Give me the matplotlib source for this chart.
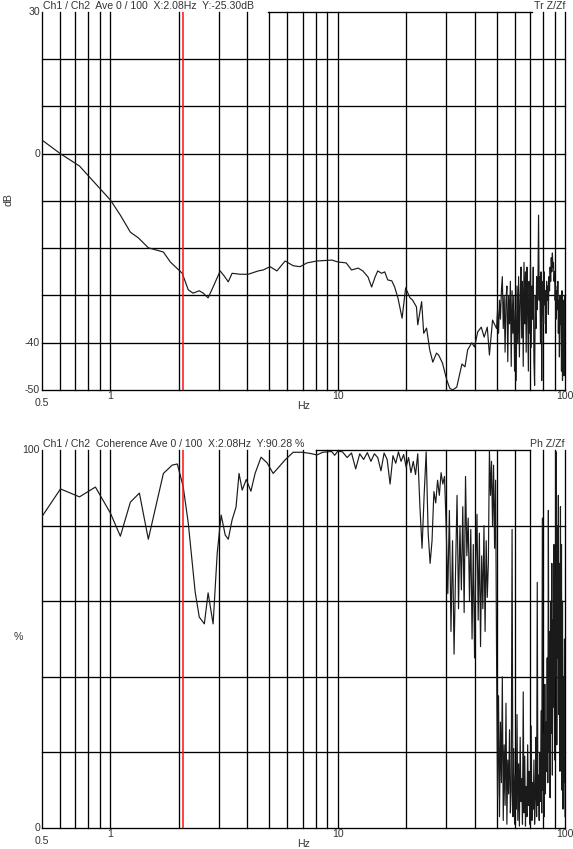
import numpy as np
import matplotlib.pyplot as plt

plt.rcParams['font.family'] = ['Liberation Sans', 'DejaVu Sans']

# transfer function (dB), low part read point by point
tr_freq = [0.5, 0.603, 0.731, 1.0, 1.106, 1.224, 1.327, 1.468, 1.71, 1.834, 2.07, 2.2, 2.31, 2.46,
           2.56, 2.69, 2.83, 3.04, 3.17, 3.30, 3.43, 3.72, 4.04, 4.47, 4.70, 5.04, 5.40, 5.87, 6.37,
           6.83, 7.33, 8.1, 9.43, 10.0, 10.9, 11.5, 12.3, 12.9, 13.6, 14.1, 14.6, 15.0, 15.6, 16.1,
           16.6, 17.3, 17.8, 18.4, 19.2, 19.9, 20.8, 21.3, 22.2, 22.5, 23.4, 23.9, 24.6, 25.4, 26.2,
           27.2, 27.8, 28.9, 30.2, 31.1, 32.0, 33.4, 35.2, 36.3, 37.3, 38.9, 40.0, 41.3, 42.8, 44.1,
           45.5, 46.5, 48.0]
tr_db = [2.9, 0.0, -2.6, -9.8, -13.0, -16.6, -17.8, -19.9, -20.8, -22.9, -25.3, -28.8, -29.5, -29.0,
         -29.5, -30.5, -28.2, -24.8, -25.9, -27.1, -25.3, -25.5, -25.5, -24.8, -24.6, -23.9, -24.8,
         -22.7, -23.7, -23.9, -23.1, -22.7, -22.5, -22.9, -23.1, -24.6, -24.2, -24.8, -26.1, -28.2,
         -26.1, -24.8, -25.3, -25.0, -26.7, -26.9, -28.2, -30.5, -34.8, -28.4, -30.5, -30.9, -32.4,
         -36.2, -31.3, -38.0, -36.9, -41.5, -44.1, -42.2, -42.6, -44.3, -47.9, -49.6, -50.0, -49.4,
         -44.5, -45.1, -41.5, -40.0, -40.9, -37.7, -36.7, -38.8, -36.7, -42.6, -35.2]
# 50..100 Hz, 0.5 Hz lines
tr_db_hi = [-37, -33, -38, -31, -35, -29, -26, -37, -30, -42,
            -31, -28, -44, -30, -36, -27, -45, -29, -38, -30,
            -46, -33, -48, -28, -40, -26, -43, -31, -24, -39,
            -27, -45, -23, -36, -25, -42, -24, -33, -46, -27,
            -38, -23, -41, -28, -35, -24, -44, -49, -30, -37,
            -26, -33, -28, -13, -31, -26, -40, -25, -48, -30,
            -27, -36, -25, -32, -29, -38, -27, -31, -28, -34,
            -26, -29, -24, -27, -22, -25, -21, -24, -23, -27,
            -25, -31, -28, -35, -29, -33, -27, -38, -31, -43,
            -30, -36, -32, -46, -29, -48, -33, -31, -47, -30, -32]

# coherence (%)
co_freq = [0.5, 0.603, 0.731, 0.859, 1.0, 1.106, 1.224, 1.341, 1.468, 1.71, 1.87, 1.97, 2.09, 2.2,
           2.36, 2.46, 2.59, 2.69, 2.83, 2.95, 3.07, 3.2, 3.3, 3.43, 3.57, 3.68, 3.8, 3.96, 4.15,
           4.33, 4.6, 4.89, 5.2, 5.4, 5.87, 6.37, 6.97, 7.56, 8.1, 8.6, 9.4, 9.7, 10.0]
co_pct = [82.4, 89.7, 87.6, 90.2, 83.3, 77.2, 86.2, 88.6, 76.4, 93.8, 96.0, 96.3, 90.3, 80.7,
          62.4, 55.8, 54.0, 62.2, 54.0, 72.7, 82.8, 77.5, 76.4, 81.5, 84.9, 93.8, 89.4, 92.2, 89.1,
          93.8, 98.1, 96.6, 93.8, 94.9, 97.4, 99.4, 99.4, 99.1, 98.7, 99.4, 99.6, 98.6, 99.7]
# 10.5..100 Hz, 0.5 Hz lines
co_pct_hi = [99.5, 98.0, 99.2, 95.0, 99.0, 97.5, 99.3, 97.0, 99.0, 98.0,
             94.5, 99.2, 97.5, 91.0, 98.5, 96.5, 99.5, 97.0, 98.8, 95.5,
             98.0, 94.0, 97.0, 93.5, 99.0, 85.0, 74.0, 88.0, 99.5, 78.0,
             70.0, 76.0, 89.0, 86.0, 92.0, 88.0, 94.0, 91.0, 93.0, 80.0,
             62, 84, 52, 76, 46, 68, 88, 58, 80, 63,
             85, 57, 93, 72, 82, 60, 79, 50, 75, 45,
             70, 83, 55, 78, 48, 72, 58, 80, 52, 76,
             61, 70, 100, 88, 97, 80, 96, 74, 92, 45,
             8, 35, 3, 28, 12, 40, 2, 22, 6, 33,
             1, 18, 9, 26, 4, 10, 79, 3, 21, 1,
             14, 5, 30, 2, 17, 0.5, 24, 7, 13, 1,
             36, 4, 19, 0.5, 11, 3, 22, 6, 15, 1,
             9, 27, 2, 12, 5, 18, 1, 8, 24, 3,
             65, 6, 14, 2, 20, 7, 31, 4, 82, 10,
             25, 3, 38, 9, 28, 15, 45, 12, 84, 20,
             52, 8, 60, 25, 70, 14, 55, 32, 75, 18,
             66, 40, 99.5, 22, 80, 45, 88, 30, 70, 15,
             85, 38, 75, 10, 60, 5, 40, 12, 50, 3]

grid_f = [0.6, 0.7, 0.8, 0.9, 1, 2, 3, 4, 5, 6, 7, 8, 9, 10,
          20, 30, 40, 50, 60, 70, 80, 90, 100]
cursor_f = 2.08


def draw_panel(ax, fx, fy, ymin, ymax, ystep, ylabels, title, right_title, top_from, top_to):
    ax.set_xscale('log')
    ax.set_xlim(0.5, 100)
    ax.set_ylim(ymin, ymax)
    for s in ax.spines.values():
        s.set_visible(False)
    ax.set_xticks([])
    ax.set_yticks([])
    ax.minorticks_off()
    kw = dict(color='black', lw=0.95, clip_on=False, zorder=1)
    ax.axvline(0.5, **kw)
    for f in grid_f:
        ax.axvline(f, **kw)
    for y in np.arange(ymin, ymax, ystep):
        ax.axhline(y, **kw)
    ax.plot([top_from, top_to], [ymax, ymax], **kw)
    ax.axvline(cursor_f, color='#ff1010', lw=1.1, zorder=3)
    ax.plot(fx, fy, color='#1a1a1a', lw=0.85, zorder=2, clip_on=True)

    for v in ylabels:
        ax.text(-0.004, v, str(v), transform=ax.get_yaxis_transform(), ha='right', va='center',
                fontsize=7.6, color='#333333')
    tr = ax.get_xaxis_transform()
    ax.text(0.5, -0.035, '0.5', transform=tr, ha='center', va='center', fontsize=7.6, color='#333333')
    for f, s in [(1, '1'), (10, '10'), (100, '100')]:
        ax.text(f, -0.016, s, transform=tr, ha='center', va='center', fontsize=7.6, color='#333333')
    ax.text(7.1, -0.042, 'Hz', transform=tr, ha='center', va='center', fontsize=7.6, color='#333333')
    ax.text(0.002, 1.017, title, transform=ax.transAxes, ha='left', va='center',
            fontsize=7.6, color='#333333')
    ax.text(1.0, 1.017, right_title, transform=ax.transAxes, ha='right', va='center',
            fontsize=7.6, color='#333333')


fig = plt.figure(figsize=(5.73, 8.49), dpi=100)
ax1 = fig.add_axes([42 / 573, 1 - 390 / 849, 523 / 573, 378 / 849])
ax2 = fig.add_axes([42 / 573, 1 - 828 / 849, 523 / 573, 378 / 849])

f1 = list(tr_freq) + list(np.linspace(50, 100, len(tr_db_hi)))
y1 = list(tr_db) + list(tr_db_hi)
draw_panel(ax1, f1, y1, -50, 30, 10, [30, 0, -40, -50],
           'Ch1 / Ch2  Ave 0 / 100  X:2.08Hz  Y:-25.30dB', 'Tr Z/Zf', 4.94, 71.3)
fig.text(8 / 573, 1 - 200 / 849, 'dB', rotation=90, ha='center', va='center', fontsize=7.6, color='#333333')

f2 = list(co_freq) + list(np.linspace(10.5, 100, len(co_pct_hi)))
y2 = list(co_pct) + list(co_pct_hi)
draw_panel(ax2, f2, y2, 0, 100, 20, [100, 0],
           'Ch1 / Ch2  Coherence Ave 0 / 100  X:2.08Hz  Y:90.28 %', 'Ph Z/Zf', 8.03, 69.9)
fig.text(18 / 573, 1 - 637 / 849, '%', ha='center', va='center', fontsize=7.6, color='#333333')

fig.savefig('out.png', dpi=100, facecolor='white')
